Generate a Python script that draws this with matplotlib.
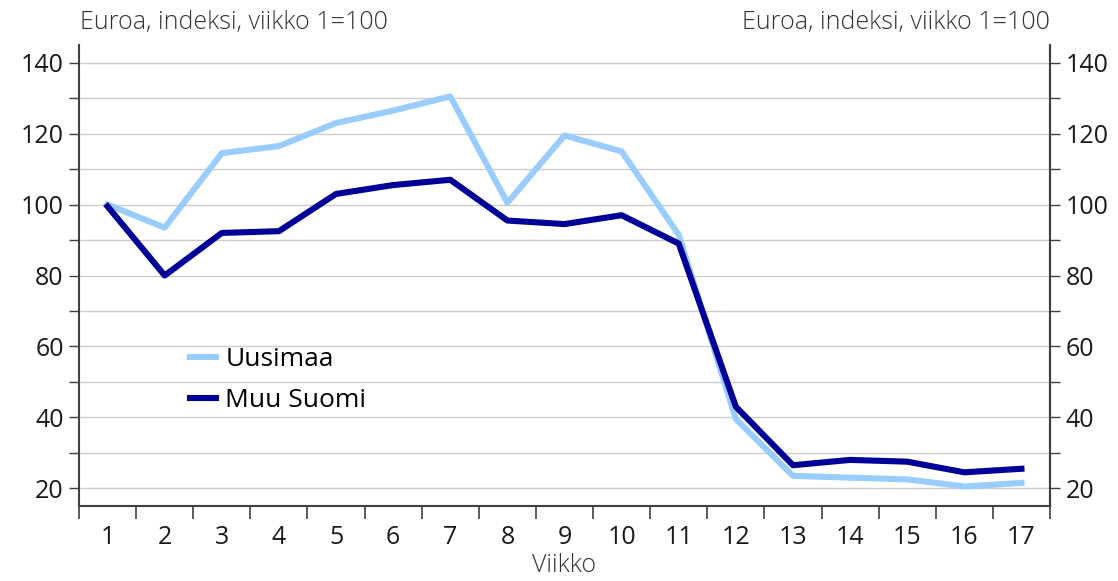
import numpy as np
import matplotlib
matplotlib.use('Agg')
from matplotlib import pyplot as plt
from matplotlib.ticker import MultipleLocator, FixedLocator

plt.rcParams['font.family'] = ['Open Sans', 'DejaVu Sans']

# data
weeks = np.arange(1, 18)
week_labels = [str(w) for w in weeks]
uusimaa = [100, 93.5, 114.5, 116.5, 123, 126.5, 130.5, 100.5, 119.5, 115,
           91.5, 39.5, 23.5, 23, 22.5, 20.5, 21.5]
muu_suomi = [99.5, 80, 92, 92.5, 103, 105.5, 107, 95.5, 94.5, 97,
             89, 43, 26.5, 28, 27.5, 24.5, 25.5]

unit_text = 'Euroa, indeksi, viikko 1=100'
c_light = '#99ccff'
c_dark = '#000099'
c_axis = '#404040'
fs = 18

fig = plt.figure(figsize=(11.18, 5.81), dpi=100)
ax = fig.add_axes([79/1118, 75/581, (1050-79)/1118, (506-45)/581])

ax.plot(weeks, uusimaa, color=c_light, lw=4.4, label='Uusimaa')
ax.plot(weeks, muu_suomi, color=c_dark, lw=4.4, label='Muu Suomi')

ax.set_xlim(0.5, 17.5)
ax.set_ylim(15, 145)
ax.yaxis.set_major_locator(FixedLocator([20, 40, 60, 80, 100, 120, 140]))
ax.yaxis.set_minor_locator(FixedLocator([30, 50, 70, 90, 110, 130]))
ax.grid(True, which='both', axis='y', color='#cccccc', lw=1.0)
ax.set_axisbelow(True)

ax.set_xticks(weeks)
ax.set_xticklabels(week_labels)
ax.xaxis.set_minor_locator(MultipleLocator(1, offset=0.5))
ax.tick_params(axis='x', which='major', length=0, pad=14, labelsize=fs, colors='#1a1a1a')
ax.tick_params(axis='x', which='minor', length=9, width=1.2, color=c_axis, direction='out')
ax.tick_params(axis='y', which='both', length=7, width=1.0, color=c_axis, labelsize=fs,
               labelcolor='#1a1a1a', pad=4)

ax.spines['top'].set_visible(False)
for s in ['left', 'bottom', 'right']:
    ax.spines[s].set_color(c_axis)
    ax.spines[s].set_linewidth(1.5)

ax2 = ax.twinx()
ax2.set_ylim(ax.get_ylim())
ax2.yaxis.set_major_locator(FixedLocator([20, 40, 60, 80, 100, 120, 140]))
ax2.yaxis.set_minor_locator(FixedLocator([30, 50, 70, 90, 110, 130]))
ax2.tick_params(axis='y', which='both', length=7, width=1.0, color=c_axis, labelsize=fs,
                labelcolor='#1a1a1a', pad=4)
for s in ['top', 'left', 'bottom']:
    ax2.spines[s].set_visible(False)
ax2.spines['right'].set_color(c_axis)
ax2.spines['right'].set_linewidth(1.5)

ax.set_xlabel('Viikko', fontsize=fs, fontweight='light', color='#333333', labelpad=2)

fig.text(80/1118, 1 - 22/581, unit_text, ha='left', va='center', fontsize=fs,
         fontweight='light', color='#333333')
fig.text(1050/1118, 1 - 22/581, unit_text, ha='right', va='center', fontsize=fs,
         fontweight='light', color='#333333')

ax.legend(loc='upper left', bbox_to_anchor=(0.114, 0.345), frameon=False, fontsize=19,
          handlelength=1.0, handletextpad=0.35, labelspacing=0.6, borderaxespad=0,
          borderpad=0)

plt.savefig('out.png', dpi=100)
